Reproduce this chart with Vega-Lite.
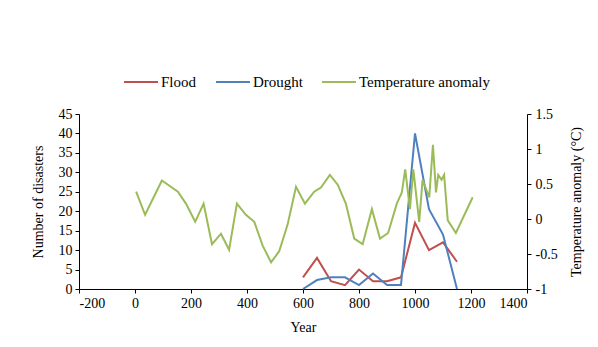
{
  "$schema": "https://vega.github.io/schema/vega-lite/v6.json",
  "autosize": {"type": "none"},
  "width": 448,
  "height": 175,
  "padding": {"left": 79, "top": 114, "right": 71, "bottom": 58},
  "background": "white",
  "config": {
    "view": {"stroke": null},
    "font": "Liberation Serif",
    "axis": {
      "grid": false,
      "domainColor": "#000000",
      "tickColor": "#000000",
      "labelColor": "#000000",
      "titleColor": "#000000",
      "labelFont": "Liberation Serif",
      "titleFont": "Liberation Serif",
      "labelFontSize": 14,
      "titleFontSize": 14,
      "titleFontWeight": "normal",
      "tickSize": 4,
      "domainWidth": 1,
      "tickWidth": 1
    },
    "legend": {
      "labelFont": "Liberation Serif",
      "labelFontSize": 15,
      "labelColor": "#000000"
    }
  },
  "datasets": {
    "disasters": [
      {"year": 600, "series": "Flood", "value": 3},
      {"year": 650, "series": "Flood", "value": 8},
      {"year": 700, "series": "Flood", "value": 2},
      {"year": 750, "series": "Flood", "value": 1},
      {"year": 800, "series": "Flood", "value": 5},
      {"year": 850, "series": "Flood", "value": 2},
      {"year": 900, "series": "Flood", "value": 2},
      {"year": 950, "series": "Flood", "value": 3},
      {"year": 1000, "series": "Flood", "value": 17},
      {"year": 1050, "series": "Flood", "value": 10},
      {"year": 1100, "series": "Flood", "value": 12},
      {"year": 1150, "series": "Flood", "value": 7},
      {"year": 600, "series": "Drought", "value": 0},
      {"year": 650, "series": "Drought", "value": 2.3},
      {"year": 700, "series": "Drought", "value": 3},
      {"year": 750, "series": "Drought", "value": 3},
      {"year": 800, "series": "Drought", "value": 1},
      {"year": 850, "series": "Drought", "value": 4},
      {"year": 900, "series": "Drought", "value": 1},
      {"year": 950, "series": "Drought", "value": 1},
      {"year": 1000, "series": "Drought", "value": 40},
      {"year": 1050, "series": "Drought", "value": 20.5},
      {"year": 1100, "series": "Drought", "value": 14},
      {"year": 1150, "series": "Drought", "value": 0}
    ],
    "temperature": [
      {"year": 4, "series": "Temperature anomaly", "anomaly": 0.39},
      {"year": 36, "series": "Temperature anomaly", "anomaly": 0.06},
      {"year": 96, "series": "Temperature anomaly", "anomaly": 0.55},
      {"year": 128, "series": "Temperature anomaly", "anomaly": 0.46},
      {"year": 153, "series": "Temperature anomaly", "anomaly": 0.39},
      {"year": 182, "series": "Temperature anomaly", "anomaly": 0.22},
      {"year": 215, "series": "Temperature anomaly", "anomaly": -0.04},
      {"year": 245, "series": "Temperature anomaly", "anomaly": 0.22},
      {"year": 275, "series": "Temperature anomaly", "anomaly": -0.36},
      {"year": 307, "series": "Temperature anomaly", "anomaly": -0.21},
      {"year": 336, "series": "Temperature anomaly", "anomaly": -0.44},
      {"year": 364, "series": "Temperature anomaly", "anomaly": 0.22},
      {"year": 396, "series": "Temperature anomaly", "anomaly": 0.06},
      {"year": 426, "series": "Temperature anomaly", "anomaly": -0.04},
      {"year": 456, "series": "Temperature anomaly", "anomaly": -0.38},
      {"year": 486, "series": "Temperature anomaly", "anomaly": -0.62},
      {"year": 515, "series": "Temperature anomaly", "anomaly": -0.46},
      {"year": 545, "series": "Temperature anomaly", "anomaly": -0.08},
      {"year": 575, "series": "Temperature anomaly", "anomaly": 0.46},
      {"year": 607, "series": "Temperature anomaly", "anomaly": 0.22},
      {"year": 640, "series": "Temperature anomaly", "anomaly": 0.39},
      {"year": 664, "series": "Temperature anomaly", "anomaly": 0.45},
      {"year": 696, "series": "Temperature anomaly", "anomaly": 0.63},
      {"year": 724, "series": "Temperature anomaly", "anomaly": 0.49},
      {"year": 753, "series": "Temperature anomaly", "anomaly": 0.22},
      {"year": 783, "series": "Temperature anomaly", "anomaly": -0.28},
      {"year": 813, "series": "Temperature anomaly", "anomaly": -0.36},
      {"year": 846, "series": "Temperature anomaly", "anomaly": 0.14},
      {"year": 875, "series": "Temperature anomaly", "anomaly": -0.28},
      {"year": 904, "series": "Temperature anomaly", "anomaly": -0.2},
      {"year": 935, "series": "Temperature anomaly", "anomaly": 0.22},
      {"year": 953, "series": "Temperature anomaly", "anomaly": 0.38},
      {"year": 965, "series": "Temperature anomaly", "anomaly": 0.71},
      {"year": 982, "series": "Temperature anomaly", "anomaly": 0.14},
      {"year": 994, "series": "Temperature anomaly", "anomaly": 0.71},
      {"year": 1015, "series": "Temperature anomaly", "anomaly": -0.04},
      {"year": 1027, "series": "Temperature anomaly", "anomaly": 0.56},
      {"year": 1051, "series": "Temperature anomaly", "anomaly": 0.31},
      {"year": 1064, "series": "Temperature anomaly", "anomaly": 1.06},
      {"year": 1075, "series": "Temperature anomaly", "anomaly": 0.38},
      {"year": 1083, "series": "Temperature anomaly", "anomaly": 0.63},
      {"year": 1095, "series": "Temperature anomaly", "anomaly": 0.56},
      {"year": 1104, "series": "Temperature anomaly", "anomaly": 0.63},
      {"year": 1117, "series": "Temperature anomaly", "anomaly": -0.02},
      {"year": 1146, "series": "Temperature anomaly", "anomaly": -0.2},
      {"year": 1206, "series": "Temperature anomaly", "anomaly": 0.31}
    ]
  },
  "encoding": {
    "x": {
      "field": "year",
      "type": "quantitative",
      "scale": {"domain": [-200, 1400], "nice": false, "zero": false},
      "axis": {
        "title": "Year",
        "values": [-200, 0, 200, 400, 600, 800, 1000, 1200, 1400],
        "labelExpr": "'' + datum.value",
        "titlePadding": 10,
        "labelPadding": 3
      }
    },
    "color": {
      "field": "series",
      "type": "nominal",
      "scale": {
        "domain": ["Flood", "Drought", "Temperature anomaly"],
        "range": ["#C0504D", "#4F81BD", "#9BBB59"]
      },
      "legend": {
        "title": null,
        "orient": "none",
        "direction": "horizontal",
        "legendX": 44,
        "legendY": -50,
        "symbolType": "stroke",
        "symbolSize": 1156,
        "symbolStrokeWidth": 2,
        "labelOffset": 2,
        "columnPadding": 15
      }
    }
  },
  "layer": [
    {
      "data": {"name": "disasters"},
      "mark": {"type": "line", "strokeWidth": 2, "clip": false},
      "encoding": {
        "y": {
          "field": "value",
          "type": "quantitative",
          "scale": {"domain": [0, 45], "nice": false},
          "axis": {
            "title": "Number of disasters",
            "orient": "left",
            "values": [0, 5, 10, 15, 20, 25, 30, 35, 40, 45],
            "titlePadding": 13,
            "labelPadding": 3
          }
        }
      }
    },
    {
      "data": {"name": "temperature"},
      "mark": {"type": "line", "strokeWidth": 2},
      "encoding": {
        "y": {
          "field": "anomaly",
          "type": "quantitative",
          "scale": {"domain": [-1, 1.5], "nice": false, "zero": false},
          "axis": {
            "title": "Temperature anomaly (°C)",
            "orient": "right",
            "values": [-1, -0.5, 0, 0.5, 1, 1.5],
            "labelExpr": "'' + datum.value",
            "titleAngle": 270,
            "titleBaseline": "top",
            "titlePadding": 12,
            "labelPadding": 4
          }
        }
      }
    }
  ],
  "resolve": {"scale": {"y": "independent"}}
}
